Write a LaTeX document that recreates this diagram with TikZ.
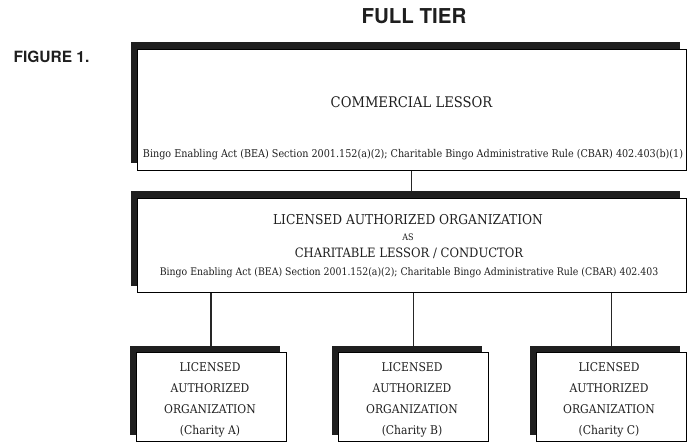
\documentclass[tikz,border=0pt]{standalone}
\usepackage{fontspec}
\setmainfont{DejaVu Serif Condensed}
\newfontfamily\headfont{TeX Gyre Heros}
\usetikzlibrary{shadows,backgrounds}
\begin{document}
\begin{tikzpicture}[x=1pt,y=-1pt,
  boxshape/.style={draw=black, line width=0.9pt, fill=white, inner sep=0pt,
    general shadow={fill=black!88, shadow xshift=-6.5pt, shadow yshift=6.5pt}},
  txt/.style={inner sep=0pt, text=black!88},
  head/.style={inner sep=0pt, text=black!88, font=\headfont\bfseries},
  link/.style={line width=1.1pt, draw=black!85}]
\useasboundingbox (0,0) rectangle (695,443);

\node[head, font=\headfont\bfseries\fontsize{20.5}{24}\selectfont] (title) at (414,16) {FULL TIER};
\node[head, font=\headfont\bfseries\fontsize{15.5}{18}\selectfont] (figlabel) at (51.5,57) {FIGURE 1.};

\node[boxshape, minimum width=549pt, minimum height=121pt] (lessor) at (411.5,109.5) {};
\node[txt, font=\fontsize{14.6}{17}\selectfont] (lessorname) at (411.5,102) {COMMERCIAL LESSOR};
\node[txt, font=\fontsize{10.7}{13}\selectfont] (lessorlaw) at (413,155) {Bingo Enabling Act (BEA) Section 2001.152(a)(2); Charitable Bingo Administrative Rule (CBAR) 402.403(b)(1)};

\node[boxshape, minimum width=549pt, minimum height=94pt] (conductor) at (411.5,245) {};
\node[txt, font=\fontsize{13.6}{16}\selectfont] (condname) at (408,220) {LICENSED AUTHORIZED ORGANIZATION};
\node[txt, font=\fontsize{9}{11}\selectfont] (condas) at (408,237) {AS};
\node[txt, font=\fontsize{12.9}{16}\selectfont] (condrole) at (409,253) {CHARITABLE LESSOR / CONDUCTOR};
\node[txt, font=\fontsize{10.4}{13}\selectfont] (condlaw) at (409,273) {Bingo Enabling Act (BEA) Section 2001.152(a)(2); Charitable Bingo Administrative Rule (CBAR) 402.403};

\node[boxshape, minimum width=150pt, minimum height=89pt] (charityA) at (211,396.5) {};
\node[boxshape, minimum width=150pt, minimum height=89pt] (charityB) at (413.5,396.5) {};
\node[boxshape, minimum width=150pt, minimum height=89pt] (charityC) at (611.5,396.5) {};
\node[txt, align=center, font=\fontsize{12}{21}\selectfont] (labelA) at (210,400) {LICENSED\\AUTHORIZED\\ORGANIZATION\\(Charity A)};
\node[txt, align=center, font=\fontsize{12}{21}\selectfont] (labelB) at (412,400) {LICENSED\\AUTHORIZED\\ORGANIZATION\\(Charity B)};
\node[txt, align=center, font=\fontsize{12}{21}\selectfont] (labelC) at (609,400) {LICENSED\\AUTHORIZED\\ORGANIZATION\\(Charity C)};

\begin{scope}[on background layer]
  \draw[link] (lessor.south) -- (conductor.north);
  \draw[link] (conductor.south -| charityA.north) -- (charityA.north);
  \draw[link] (conductor.south -| charityB.north) -- (charityB.north);
  \draw[link] (conductor.south -| charityC.north) -- (charityC.north);
\end{scope}
\end{tikzpicture}
\end{document}
